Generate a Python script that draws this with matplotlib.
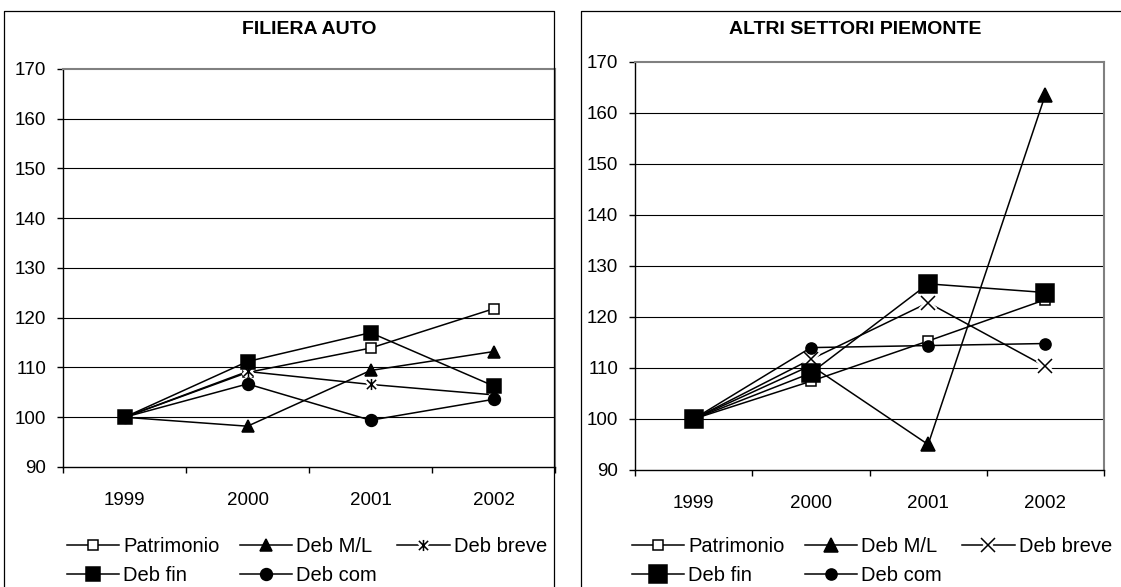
"""Indici 1999=100: filiera auto vs altri settori Piemonte."""
import matplotlib

matplotlib.use("Agg")
import matplotlib.pyplot as plt
from matplotlib.lines import Line2D
from matplotlib.path import Path

# Data (index 1999 = 100)
YEARS = ["1999", "2000", "2001", "2002"]
SERIES_NAMES = ["Patrimonio", "Deb M/L", "Deb breve", "Deb fin", "Deb com"]

patrimonio_auto = [100, 109.0, 113.9, 121.8]
deb_ml_auto = [100, 98.2, 109.4, 113.2]
deb_breve_auto = [100, 109.2, 106.6, 104.5]
deb_fin_auto = [100, 111.2, 117.0, 106.3]
deb_com_auto = [100, 106.7, 99.4, 103.6]

patrimonio_altri = [100, 107.4, 115.3, 123.4]
deb_ml_altri = [100, 110.5, 95.0, 163.6]
deb_breve_altri = [100, 111.7, 122.8, 110.3]
deb_fin_altri = [100, 109.0, 126.5, 124.8]
deb_com_altri = [100, 114.0, 114.4, 114.8]

Y_TICKS = [90, 100, 110, 120, 130, 140, 150, 160, 170]

# Layout (pixels of the 1121x587 output)
W, H = 1121, 587
FONT = 13.5
LEGEND_FONT = 14.5

plt.rcParams["font.family"] = ["Liberation Sans", "DejaVu Sans"]

# star marker: an x with a vertical bar
STAR = Path(
    [(-1, -1), (1, 1), (-1, 1), (1, -1), (0, -1.2), (0, 1.2)],
    [Path.MOVETO, Path.LINETO, Path.MOVETO, Path.LINETO, Path.MOVETO, Path.LINETO],
)


def px_rect(x0, x1, ytop, ybot):
    return [x0 / W, 1 - ybot / H, (x1 - x0) / W, (ybot - ytop) / H]


def draw_panel(fig, rect, values, styles, legend_anchor):
    ax = fig.add_axes(rect)
    xs = range(len(YEARS))
    handles = []
    for name, vals, st in zip(SERIES_NAMES, values, styles):
        (ln,) = ax.plot(xs, vals, color="black", lw=1.1, zorder=3)
        if st.get("gap"):
            (bg,) = ax.plot(xs, vals, ls="none", marker=st["marker"], ms=st["ms"],
                            mfc="none", mec="white", mew=4.5, zorder=3)
            (mk,) = ax.plot(xs, vals, ls="none", marker=st["marker"], ms=st["ms"],
                            mfc="none", mec="black", mew=1.1, zorder=3)
            handles.append((ln, bg, mk))
        else:
            (mk,) = ax.plot(xs, vals, ls="none", marker=st["marker"], ms=st["ms"],
                            mfc=st.get("mfc", "black"), mec="black", mew=1.1, zorder=3)
            handles.append((ln, mk))

    ax.set_xlim(-0.5, len(YEARS) - 0.5)
    ax.set_ylim(90, 170)
    ax.set_yticks(Y_TICKS)
    ax.tick_params(axis="y", direction="out", length=4, width=1, pad=8,
                   labelsize=FONT)
    ax.set_xticks([i - 0.5 for i in range(len(YEARS) + 1)])
    ax.set_xticklabels([])
    ax.tick_params(axis="x", which="major", direction="out", length=4, width=1)
    ax.set_xticks(list(xs), minor=True)
    ax.set_xticklabels(YEARS, minor=True)
    ax.tick_params(axis="x", which="minor", length=0, pad=18, labelsize=FONT)

    for y in Y_TICKS[1:-1]:
        ax.axhline(y, color="black", lw=0.8, zorder=1)
    for side in ("left", "bottom"):
        ax.spines[side].set_color("black")
        ax.spines[side].set_linewidth(1.0)
    for side in ("top", "right"):
        ax.spines[side].set_color("#808080")
        ax.spines[side].set_linewidth(1.5)

    # Excel-like legend order: column-major with 3 columns
    order = [0, 3, 1, 4, 2]
    fig.legend([handles[i] for i in order], [SERIES_NAMES[i] for i in order],
               loc="upper left", bbox_to_anchor=legend_anchor, ncol=3,
               frameon=False, fontsize=LEGEND_FONT, handlelength=2.6,
               handletextpad=0.2, columnspacing=1.0, labelspacing=0.5,
               borderpad=0, borderaxespad=0)
    return ax


fig = plt.figure(figsize=(W / 100, H / 100), dpi=100)

# panel frames
fig.add_artist(Line2D([4 / W, 4 / W, 554 / W, 554 / W], [0, 1 - 11 / H, 1 - 11 / H, 0],
                      color="black", lw=0.9))
fig.add_artist(Line2D([581 / W, 581 / W, 1], [0, 1 - 11 / H, 1 - 11 / H],
                      color="black", lw=0.9))

auto_styles = [
    {"marker": "s", "ms": 7.5, "mfc": "white"},
    {"marker": "^", "ms": 9},
    {"marker": STAR, "ms": 8, "gap": True},
    {"marker": "s", "ms": 10},
    {"marker": "o", "ms": 8.5},
]
altri_styles = [
    {"marker": "s", "ms": 7, "mfc": "white"},
    {"marker": "^", "ms": 10},
    {"marker": "x", "ms": 9.5, "gap": True},
    {"marker": "s", "ms": 12.5},
    {"marker": "o", "ms": 8},
]

draw_panel(fig, px_rect(63, 555, 69, 467),
           [patrimonio_auto, deb_ml_auto, deb_breve_auto, deb_fin_auto, deb_com_auto],
           auto_styles, (67 / W, 1 - 537 / H))
draw_panel(fig, px_rect(635, 1104, 62, 470),
           [patrimonio_altri, deb_ml_altri, deb_breve_altri, deb_fin_altri, deb_com_altri],
           altri_styles, (632 / W, 1 - 537 / H))

fig.text(309 / W, 1 - 30 / H, "FILIERA AUTO", ha="center", va="center",
         fontsize=14, fontweight="bold")
fig.text(855 / W, 1 - 30 / H, "ALTRI SETTORI PIEMONTE", ha="center", va="center",
         fontsize=14, fontweight="bold")

fig.savefig("out.png", dpi=100)
plt.close(fig)
